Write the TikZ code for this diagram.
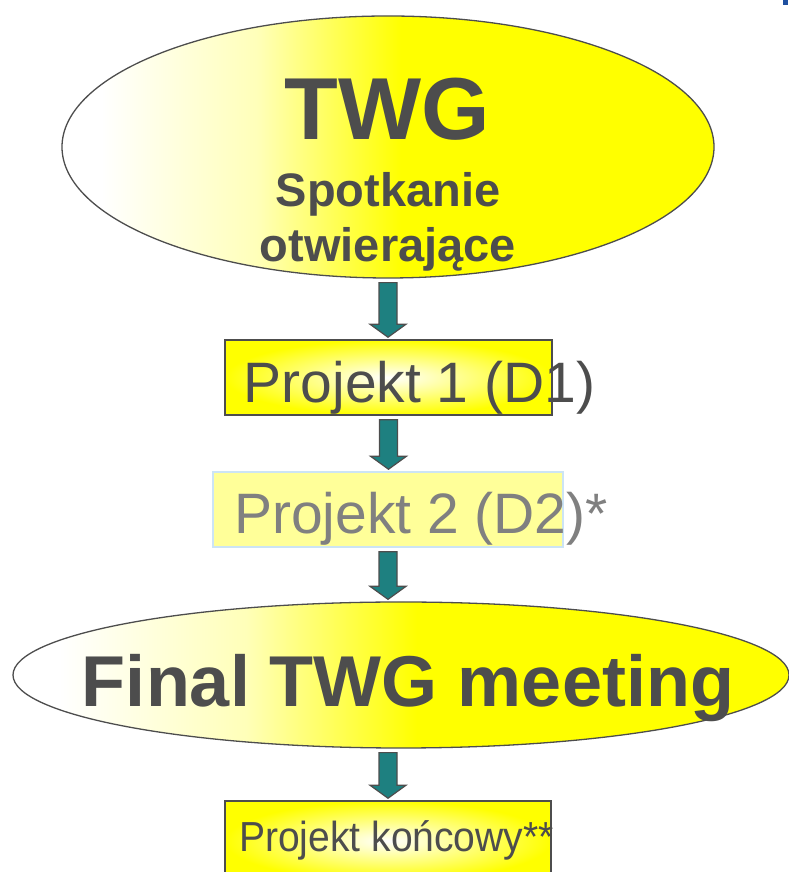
\documentclass[tikz,border=0pt]{standalone}
\usepackage{fontspec}
\usepackage{graphicx}
\setmainfont{Liberation Sans}
\usetikzlibrary{calc,shapes.geometric}

\definecolor{twgyellow}{RGB}{255,255,0}
\definecolor{twgtext}{RGB}{77,77,77}
\definecolor{twgteal}{RGB}{30,128,128}
\definecolor{twgpale}{RGB}{255,255,153}
\definecolor{twgcream}{RGB}{255,255,185}
\definecolor{twgedge}{RGB}{204,228,245}
\definecolor{twggrey}{RGB}{128,128,128}
\definecolor{twgblue}{RGB}{30,80,160}

\pgfdeclarehorizontalshading{meetfill}{100bp}{color(0bp)=(white); color(28bp)=(white); color(40bp)=(twgcream); color(51bp)=(twgyellow); color(100bp)=(twgyellow)}

\tikzset{
    meeting/.style={ellipse, draw=twgtext, line width=1.3pt, shading=meetfill, inner sep=0pt},
    draftbox/.style={rectangle, draw=twgtext, line width=1.5pt, inner color=white, outer color=twgyellow, inner sep=0pt},
    optbox/.style={rectangle, draw=twgedge, line width=1.5pt, fill=twgpale, inner sep=0pt},
    flowarrow/.style={fill=twgteal, draw=twgtext, line width=1.2pt, line join=miter},
    bigtext/.style={inner sep=0pt, anchor=base, text=twgtext}
}

% block arrow from one node to the next
\newcommand{\flowstep}[2]{%
    \draw[flowarrow] let \p1=($(#1)+(0,-4)$), \p2=($(#2)+(0,2)$) in
        (\x1-9,\y1) -- (\x1+9,\y1) -- (\x1+9,\y2+13) -- (\x1+18,\y2+13)
        -- (\x1,\y2) -- (\x1-18,\y2+13) -- (\x1-9,\y2+13) -- cycle;}

\begin{document}
\begin{tikzpicture}[x=1pt, y=1pt]
        % Setup the page
        \useasboundingbox (0,0) rectangle (789,872);
        \fill[twgblue] (783,867) rectangle (788,872);

        % Opening meeting
        \node[meeting, minimum width=652, minimum height=262] (opening) at (388,725) {};
        \node[bigtext, font=\bfseries\fontsize{88}{88}\selectfont] (twg) at (387,732) {TWG};
        \node[bigtext, font=\bfseries\fontsize{47}{47}\selectfont] (spot) at (388,665) {Spotkanie};
        \node[bigtext, font=\bfseries\fontsize{47}{47}\selectfont] (otw) at (388,610) {otwierające};

        % Drafts
        \node[draftbox, minimum width=327, minimum height=75] (d1) at (388.5,494.5) {};
        \node[bigtext, font=\fontsize{57}{57}\selectfont] (d1text) at (419.5,469) {Projekt 1 (D1)};

        \node[optbox, minimum width=350, minimum height=75] (d2) at (388,362.5) {};
        \node[bigtext, text=twggrey, font=\fontsize{57}{57}\selectfont] (d2text) at (421,338) {Projekt 2 (D2)*};

        % Final meeting
        \node[meeting, minimum width=776, minimum height=146] (final) at (401,197) {};
        \node[bigtext, font=\bfseries\fontsize{72}{72}\selectfont] (finaltext) at (408,165) {Final TWG meeting};

        % Final draft
        \node[draftbox, minimum width=326, minimum height=80] (d3) at (388,31) {};
        \node[bigtext, font=\fontsize{42}{42}\selectfont] (d3text) at (396.5,20) {\scalebox{0.93}[1]{Projekt końcowy**}};

        % Arrows
        \flowstep{opening.south}{d1.north}
        \flowstep{d1.south}{d2.north}
        \flowstep{d2.south}{final.north -| d2.south}
        \flowstep{final.south -| d3.north}{d3.north}

    \end{tikzpicture}
\end{document}
